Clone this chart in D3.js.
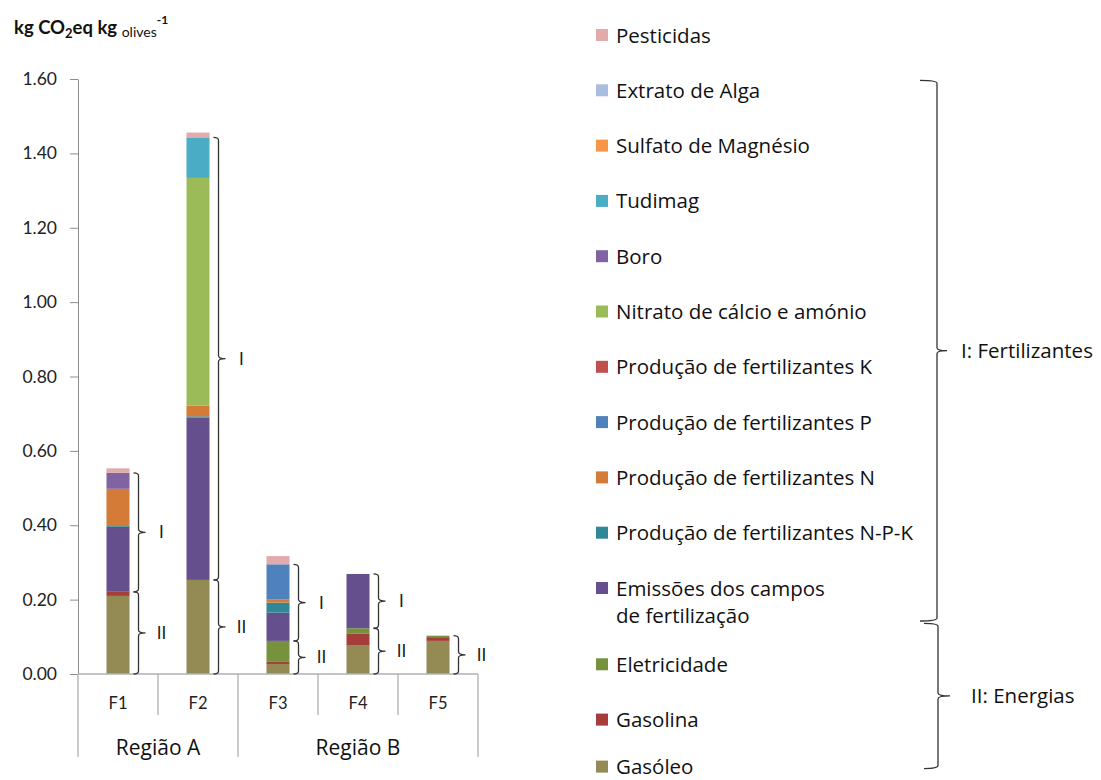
<!DOCTYPE html>
<html><head><meta charset="utf-8">
<script src="https://cdn.jsdelivr.net/npm/d3@7"></script>
<style>
html,body{margin:0;padding:0;background:#fff;}
svg{display:block;}
</style></head>
<body>
<svg id="chart" width="1101" height="780"></svg>
<script>
// ---------- DATA ----------
const categories = ["F1", "F2", "F3", "F4", "F5"];
const regionOf = ["Região A", "Região A", "Região B", "Região B", "Região B"];
const yTicks = [0, 0.2, 0.4, 0.6, 0.8, 1.0, 1.2, 1.4, 1.6];

// series, bottom to top of the stack
const seriesNames = [
  "Gasóleo", "Gasolina", "Eletricidade",
  "Emissões dos campos de fertilização",
  "Produção de fertilizantes N-P-K", "Produção de fertilizantes N",
  "Produção de fertilizantes P", "Produção de fertilizantes K",
  "Nitrato de cálcio e amónio", "Boro", "Tudimag",
  "Sulfato de Magnésio", "Extrato de Alga", "Pesticidas"
];
const gasoleo      = [0.210, 0.253, 0.027, 0.078, 0.089];
const gasolina     = [0.011, 0.000, 0.007, 0.030, 0.010];
const eletricidade = [0.000, 0.000, 0.055, 0.015, 0.004];
const emissoes     = [0.175, 0.437, 0.076, 0.146, 0.000];
const prodNPK      = [0.002, 0.003, 0.027, 0.000, 0.000];
const prodN        = [0.100, 0.029, 0.008, 0.000, 0.000];
const prodP        = [0.000, 0.000, 0.095, 0.000, 0.000];
const prodK        = [0.000, 0.000, 0.000, 0.000, 0.000];
const nitrato      = [0.000, 0.612, 0.000, 0.000, 0.000];
const boro         = [0.043, 0.000, 0.000, 0.000, 0.000];
const tudimag      = [0.000, 0.109, 0.000, 0.000, 0.000];
const sulfato      = [0.000, 0.000, 0.000, 0.000, 0.000];
const extrato      = [0.000, 0.000, 0.000, 0.000, 0.000];
const pesticidas   = [0.012, 0.013, 0.022, 0.000, 0.000];
const seriesValues = [gasoleo, gasolina, eletricidade, emissoes, prodNPK, prodN,
  prodP, prodK, nitrato, boro, tudimag, sulfato, extrato, pesticidas];
const seriesColors = ["#948a54", "#a53d3b", "#76923c", "#654f8c", "#2f8797", "#d47b37",
  "#4f81bd", "#c0504d", "#9bbb59", "#8064a2", "#4bacc6", "#f79646", "#a9bddf", "#e2aaab"];

const energySeries = ["Gasóleo", "Gasolina", "Eletricidade"];
const fertSeries = seriesNames.filter(s => !energySeries.includes(s) && s !== "Pesticidas");
const groupLabels = { fert: "I: Fertilizantes", energy: "II: Energias" };

// ---------- LAYOUT ----------
const svg = d3.select("#chart");
const x = d3.scaleBand().domain(categories).range([78, 478]).padding(0);
const y = d3.scaleLinear().domain([0, 1.6]).range([674, 79]);
const color = d3.scaleOrdinal().domain(seriesNames).range(seriesColors);
const barW = 23;

const rows = categories.map((c, i) => {
  const r = { cat: c };
  seriesNames.forEach((s, j) => r[s] = seriesValues[j][i]);
  return r;
});
const stacked = d3.stack().keys(seriesNames)(rows);

// bars
svg.append("g").selectAll("g").data(stacked).join("g")
  .attr("fill", d => color(d.key))
  .selectAll("rect").data(d => d.filter(p => p[1] - p[0] > 0)).join("rect")
  .attr("x", d => x(d.data.cat) + (x.bandwidth() - barW) / 2)
  .attr("width", barW)
  .attr("y", d => y(d[1]))
  .attr("height", d => y(d[0]) - y(d[1]));

// y axis
const axisColor = "#8c8c8c";
const yAxis = svg.append("g").attr("transform", "translate(78,0)")
  .call(d3.axisLeft(y).tickValues(yTicks).tickFormat(d3.format(".2f")).tickSize(8).tickSizeOuter(0).tickPadding(13));
yAxis.select(".domain").attr("stroke", axisColor);
yAxis.selectAll(".tick line").attr("stroke", axisColor);
yAxis.selectAll(".tick text").attr("font-family", "Lato, sans-serif").attr("font-size", 17.5).attr("fill", "#222");

// x axis line and separators
const xg = svg.append("g").attr("stroke", "#b0b0b0").attr("stroke-width", 1.3);
xg.append("line").attr("x1", x.range()[0]).attr("x2", x.range()[1]).attr("y1", y(0)).attr("y2", y(0));
const boundaries = [0, ...categories.map((c, i) => i + 1)];
boundaries.forEach(i => {
  const bx = i < categories.length ? x(categories[i]) : x.range()[1];
  const regionEdge = i === 0 || i === categories.length || regionOf[i] !== regionOf[i - 1];
  xg.append("line").attr("x1", bx).attr("x2", bx).attr("y1", y(0)).attr("y2", regionEdge ? 757 : 715);
});
svg.append("g").selectAll("text").data(categories).join("text")
  .attr("x", d => x(d) + x.bandwidth() / 2).attr("y", 709)
  .attr("text-anchor", "middle").attr("font-family", "Lato, sans-serif").attr("font-size", 16.5).attr("fill", "#222")
  .text(d => d);
const regions = Array.from(new Set(regionOf));
svg.append("g").selectAll("text").data(regions).join("text")
  .attr("x", r => {
    const cs = categories.filter((c, i) => regionOf[i] === r);
    return (x(cs[0]) + x(cs[cs.length - 1]) + x.bandwidth()) / 2;
  })
  .attr("y", 755).attr("text-anchor", "middle")
  .attr("font-family", "'Open Sans', sans-serif").attr("font-size", 21).attr("fill", "#111")
  .text(r => r);

// y title
const yt = svg.append("text").attr("x", 14).attr("y", 34)
  .attr("font-family", "Lato, sans-serif").attr("font-weight", "bold").attr("font-size", 18.5).attr("fill", "#111");
yt.append("tspan").text("kg CO");
yt.append("tspan").attr("font-size", 13).attr("dy", 4).text("2");
yt.append("tspan").attr("dy", -4).text("eq kg ");
yt.append("tspan").attr("font-size", 14).attr("font-weight", "normal").attr("dy", 3).text("olives");
yt.append("tspan").attr("font-size", 12).attr("dy", -13).text("-1");

// braces
function brace(g, bx, y0, y1, hook, tick) {
  const mid = (y0 + y1) / 2;
  g.append("path")
    .attr("d", `M${bx - hook},${y0} Q${bx},${y0} ${bx},${y0 + 3} L${bx},${mid - 3} Q${bx},${mid} ${bx + tick},${mid} Q${bx},${mid} ${bx},${mid + 3} L${bx},${y1 - 3} Q${bx},${y1} ${bx - hook},${y1}`)
    .attr("fill", "none").attr("stroke", "#333").attr("stroke-width", 1.3);
  return mid;
}
const bg = svg.append("g");
rows.forEach(r => {
  const eTop = d3.sum(energySeries, s => r[s]);
  const fTop = eTop + d3.sum(fertSeries, s => r[s]);
  const bx = x(r.cat) + (x.bandwidth() + barW) / 2 + 9;
  const m2 = brace(bg, bx, y(eTop), y(0), 5, 7);
  bg.append("text").attr("x", bx + 23).attr("y", m2 + 6).attr("text-anchor", "middle")
    .attr("font-family", "Lato, sans-serif").attr("font-size", 17).attr("fill", "#222").text("II");
  if (fTop - eTop > 0.001) {
    const m1 = brace(bg, bx, y(fTop), y(eTop), 5, 7);
    bg.append("text").attr("x", bx + 23).attr("y", m1 + 6).attr("text-anchor", "middle")
      .attr("font-family", "Lato, sans-serif").attr("font-size", 17).attr("fill", "#222").text("I");
  }
});

// legend (top to bottom = reverse stack order)
const legendItems = seriesNames.slice().reverse();
const lg = svg.append("g");
const lFont = "'Open Sans', sans-serif";
const lSize = 20.5;
const legendY = {};
let yy = 35;
legendItems.forEach(s => {
  legendY[s] = yy;
  lg.append("rect").attr("x", 596).attr("y", yy - 6).attr("width", 12).attr("height", 12).attr("fill", color(s));
  if (s === "Emissões dos campos de fertilização") {
    lg.append("text").attr("x", 616).attr("y", yy + 7.5).attr("font-family", lFont).attr("font-size", lSize).attr("fill", "#111").text("Emissões dos campos");
    lg.append("text").attr("x", 616).attr("y", yy + 34.5).attr("font-family", lFont).attr("font-size", lSize).attr("fill", "#111").text("de fertilização");
    yy += 21;
  } else {
    lg.append("text").attr("x", 616).attr("y", yy + 7.5).attr("font-family", lFont).attr("font-size", lSize).attr("fill", "#111").text(s);
  }
  yy += s === "Gasolina" ? 47 : 55.3;
});
// legend group braces
const fTopY = legendY[fertSeries[fertSeries.length - 1]] - 10;
const fBotY = legendY[fertSeries[0]] + 27 + 6;
const fm = brace(lg, 937, fTopY, fBotY, 17, 10);
lg.append("text").attr("x", 961).attr("y", fm + 7.5).attr("font-family", lFont).attr("font-size", lSize).attr("fill", "#111").text(groupLabels.fert);
const eTopY = legendY[energySeries[energySeries.length - 1]] - 41;
const eBotY = legendY[energySeries[0]] + 2;
const em = brace(lg, 938, eTopY, eBotY, 14, 12);
lg.append("text").attr("x", 971).attr("y", em + 7.5).attr("font-family", lFont).attr("font-size", lSize).attr("fill", "#111").text(groupLabels.energy);
</script>
</body></html>
